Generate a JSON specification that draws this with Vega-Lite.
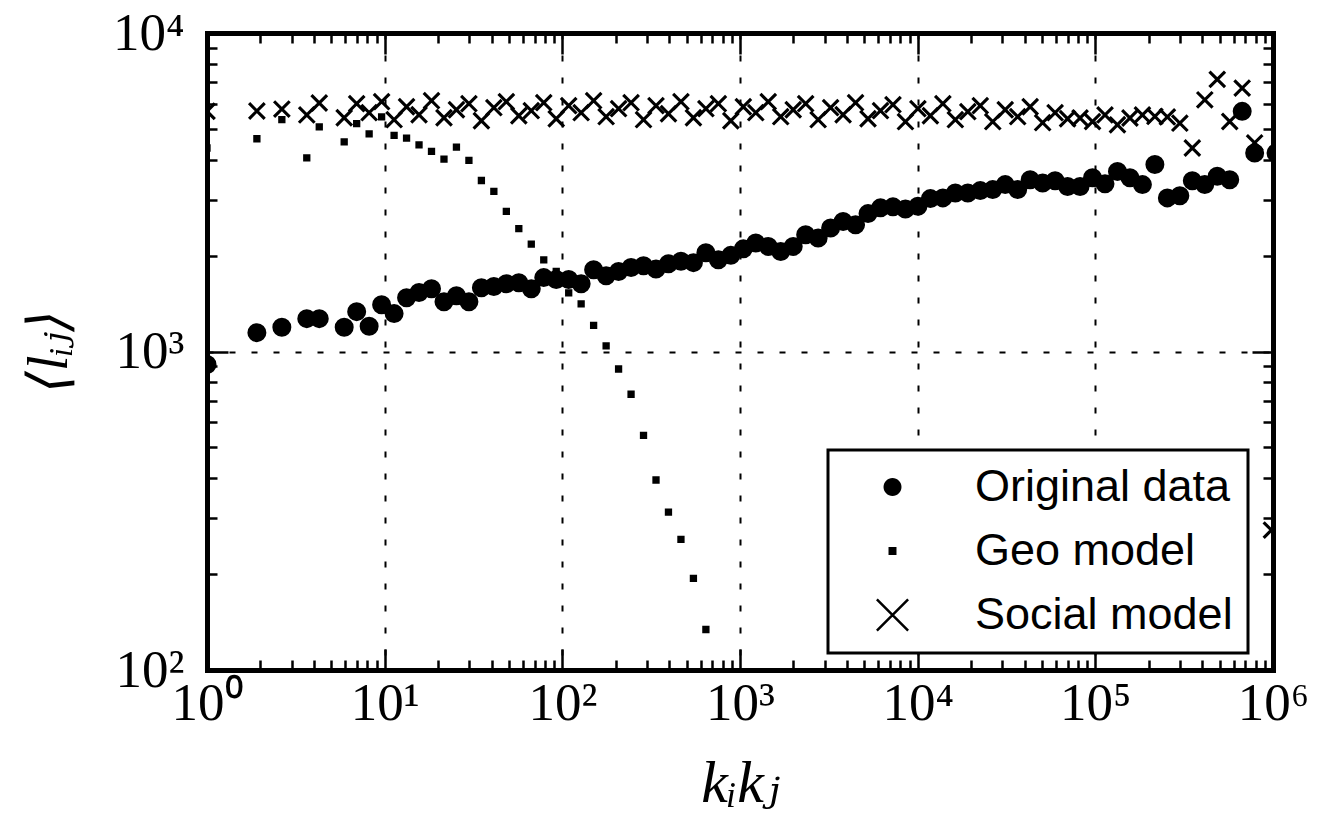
{
  "$schema": "https://vega.github.io/schema/vega-lite/v6.json",
  "width": 1066,
  "height": 637,
  "autosize": {"type": "none"},
  "padding": {"left": 207, "top": 33, "right": 57, "bottom": 152},
  "background": "white",
  "config": {
    "view": {"stroke": null},
    "axis": {
      "domain": true, "domainColor": "black", "domainWidth": 5, "domainCap": "square",
      "tickColor": "black", "tickWidth": 2.5,
      "labelColor": "black", "titleColor": "black",
      "labelFlush": false, "labelOverlap": false, "labelBound": false
    },
    "legend": {
      "orient": "none", "legendX": 621, "legendY": 417, "zindex": 2,
      "labelFont": "Liberation Sans", "labelFontSize": 45, "labelColor": "black", "labelBaseline": "middle", "labelLimit": 0,
      "padding": 14.5, "rowPadding": 18, "symbolOffset": 27.5, "labelOffset": 60,
      "symbolSize": 1089, "symbolStrokeWidth": 0, "symbolFillColor": "black",
      "strokeColor": "black", "fillColor": "white", "strokeWidth": 3
    }
  },
  "data": {
    "values": [
      {"series": "Original data", "k": 1, "l": 910},
      {"series": "Original data", "k": 1.909, "l": 1146},
      {"series": "Original data", "k": 2.638, "l": 1191},
      {"series": "Original data", "k": 3.644, "l": 1268},
      {"series": "Original data", "k": 4.284, "l": 1268},
      {"series": "Original data", "k": 5.918, "l": 1191},
      {"series": "Original data", "k": 6.957, "l": 1334},
      {"series": "Original data", "k": 8.177, "l": 1200},
      {"series": "Original data", "k": 9.612, "l": 1403},
      {"series": "Original data", "k": 11.3, "l": 1315},
      {"series": "Original data", "k": 13.28, "l": 1475},
      {"series": "Original data", "k": 15.61, "l": 1532},
      {"series": "Original data", "k": 18.35, "l": 1575},
      {"series": "Original data", "k": 21.57, "l": 1433},
      {"series": "Original data", "k": 25.35, "l": 1496},
      {"series": "Original data", "k": 29.8, "l": 1433},
      {"series": "Original data", "k": 35.03, "l": 1585},
      {"series": "Original data", "k": 41.17, "l": 1600},
      {"series": "Original data", "k": 48.4, "l": 1633},
      {"series": "Original data", "k": 56.89, "l": 1644},
      {"series": "Original data", "k": 66.87, "l": 1575},
      {"series": "Original data", "k": 78.6, "l": 1706},
      {"series": "Original data", "k": 92.39, "l": 1683},
      {"series": "Original data", "k": 108.6, "l": 1683},
      {"series": "Original data", "k": 127.6, "l": 1633},
      {"series": "Original data", "k": 150.0, "l": 1807},
      {"series": "Original data", "k": 176.4, "l": 1730},
      {"series": "Original data", "k": 207.3, "l": 1783},
      {"series": "Original data", "k": 243.7, "l": 1836},
      {"series": "Original data", "k": 286.4, "l": 1858},
      {"series": "Original data", "k": 336.7, "l": 1815},
      {"series": "Original data", "k": 395.7, "l": 1887},
      {"series": "Original data", "k": 465.2, "l": 1919},
      {"series": "Original data", "k": 546.8, "l": 1901},
      {"series": "Original data", "k": 642.7, "l": 2041},
      {"series": "Original data", "k": 755.4, "l": 1941},
      {"series": "Original data", "k": 888.0, "l": 2004},
      {"series": "Original data", "k": 1044, "l": 2100},
      {"series": "Original data", "k": 1227, "l": 2190},
      {"series": "Original data", "k": 1442, "l": 2138},
      {"series": "Original data", "k": 1695, "l": 2061},
      {"series": "Original data", "k": 1993, "l": 2138},
      {"series": "Original data", "k": 2342, "l": 2327},
      {"series": "Original data", "k": 2753, "l": 2270},
      {"series": "Original data", "k": 3236, "l": 2443},
      {"series": "Original data", "k": 3804, "l": 2560},
      {"series": "Original data", "k": 4471, "l": 2500},
      {"series": "Original data", "k": 5255, "l": 2710},
      {"series": "Original data", "k": 6177, "l": 2825},
      {"series": "Original data", "k": 7261, "l": 2845},
      {"series": "Original data", "k": 8535, "l": 2800},
      {"series": "Original data", "k": 10032, "l": 2857},
      {"series": "Original data", "k": 11792, "l": 3020},
      {"series": "Original data", "k": 13861, "l": 3036},
      {"series": "Original data", "k": 16293, "l": 3146},
      {"series": "Original data", "k": 19152, "l": 3146},
      {"series": "Original data", "k": 22511, "l": 3200},
      {"series": "Original data", "k": 26461, "l": 3223},
      {"series": "Original data", "k": 31103, "l": 3342},
      {"series": "Original data", "k": 36559, "l": 3223},
      {"series": "Original data", "k": 42974, "l": 3460},
      {"series": "Original data", "k": 50513, "l": 3380},
      {"series": "Original data", "k": 59374, "l": 3436},
      {"series": "Original data", "k": 69791, "l": 3296},
      {"series": "Original data", "k": 82035, "l": 3296},
      {"series": "Original data", "k": 96427, "l": 3510},
      {"series": "Original data", "k": 113350, "l": 3360},
      {"series": "Original data", "k": 133230, "l": 3673},
      {"series": "Original data", "k": 156600, "l": 3510},
      {"series": "Original data", "k": 184080, "l": 3342},
      {"series": "Original data", "k": 216380, "l": 3864},
      {"series": "Original data", "k": 254330, "l": 3036},
      {"series": "Original data", "k": 298950, "l": 3083},
      {"series": "Original data", "k": 351400, "l": 3436},
      {"series": "Original data", "k": 413050, "l": 3342},
      {"series": "Original data", "k": 485510, "l": 3548},
      {"series": "Original data", "k": 570690, "l": 3460},
      {"series": "Original data", "k": 670810, "l": 5675},
      {"series": "Original data", "k": 788500, "l": 4198},
      {"series": "Original data", "k": 1040000, "l": 4198},

      {"series": "Geo model", "k": 1, "l": 4355},
      {"series": "Geo model", "k": 1.909, "l": 4656},
      {"series": "Geo model", "k": 2.638, "l": 5348},
      {"series": "Geo model", "k": 3.644, "l": 4055},
      {"series": "Geo model", "k": 4.284, "l": 5070},
      {"series": "Geo model", "k": 5.918, "l": 4550},
      {"series": "Geo model", "k": 6.957, "l": 5190},
      {"series": "Geo model", "k": 8.177, "l": 4820},
      {"series": "Geo model", "k": 9.612, "l": 5450},
      {"series": "Geo model", "k": 11.3, "l": 4770},
      {"series": "Geo model", "k": 13.28, "l": 4677},
      {"series": "Geo model", "k": 15.61, "l": 4457},
      {"series": "Geo model", "k": 18.35, "l": 4248},
      {"series": "Geo model", "k": 21.57, "l": 4018},
      {"series": "Geo model", "k": 25.35, "l": 4385},
      {"series": "Geo model", "k": 29.8, "l": 3980},
      {"series": "Geo model", "k": 35.03, "l": 3443},
      {"series": "Geo model", "k": 41.17, "l": 3183},
      {"series": "Geo model", "k": 48.4, "l": 2755},
      {"series": "Geo model", "k": 56.89, "l": 2430},
      {"series": "Geo model", "k": 66.87, "l": 2174},
      {"series": "Geo model", "k": 78.6, "l": 1940},
      {"series": "Geo model", "k": 92.39, "l": 1783},
      {"series": "Geo model", "k": 108.6, "l": 1527},
      {"series": "Geo model", "k": 127.6, "l": 1410},
      {"series": "Geo model", "k": 150.0, "l": 1208},
      {"series": "Geo model", "k": 176.4, "l": 1042},
      {"series": "Geo model", "k": 207.3, "l": 881},
      {"series": "Geo model", "k": 243.7, "l": 734},
      {"series": "Geo model", "k": 286.4, "l": 545},
      {"series": "Geo model", "k": 336.7, "l": 395},
      {"series": "Geo model", "k": 395.7, "l": 313},
      {"series": "Geo model", "k": 465.2, "l": 257},
      {"series": "Geo model", "k": 546.8, "l": 194},
      {"series": "Geo model", "k": 642.7, "l": 134},

      {"series": "Social model", "k": 1, "l": 5680},
      {"series": "Social model", "k": 1.909, "l": 5690},
      {"series": "Social model", "k": 2.638, "l": 5770},
      {"series": "Social model", "k": 3.644, "l": 5530},
      {"series": "Social model", "k": 4.284, "l": 6030},
      {"series": "Social model", "k": 5.918, "l": 5420},
      {"series": "Social model", "k": 6.957, "l": 5998},
      {"series": "Social model", "k": 8.177, "l": 5620},
      {"series": "Social model", "k": 9.612, "l": 6086},
      {"series": "Social model", "k": 11.3, "l": 5343},
      {"series": "Social model", "k": 13.28, "l": 5869},
      {"series": "Social model", "k": 15.61, "l": 5539},
      {"series": "Social model", "k": 18.35, "l": 6130},
      {"series": "Social model", "k": 21.57, "l": 5420},
      {"series": "Social model", "k": 25.35, "l": 5743},
      {"series": "Social model", "k": 29.8, "l": 5998},
      {"series": "Social model", "k": 35.03, "l": 5304},
      {"series": "Social model", "k": 41.17, "l": 5827},
      {"series": "Social model", "k": 48.4, "l": 6086},
      {"series": "Social model", "k": 56.89, "l": 5499},
      {"series": "Social model", "k": 66.87, "l": 5702},
      {"series": "Social model", "k": 78.6, "l": 6042},
      {"series": "Social model", "k": 92.39, "l": 5381},
      {"series": "Social model", "k": 108.6, "l": 5912},
      {"series": "Social model", "k": 127.6, "l": 5620},
      {"series": "Social model", "k": 150.0, "l": 6130},
      {"series": "Social model", "k": 176.4, "l": 5460},
      {"series": "Social model", "k": 207.3, "l": 5785},
      {"series": "Social model", "k": 243.7, "l": 6042},
      {"series": "Social model", "k": 286.4, "l": 5343},
      {"series": "Social model", "k": 336.7, "l": 5912},
      {"series": "Social model", "k": 395.7, "l": 5579},
      {"series": "Social model", "k": 465.2, "l": 6086},
      {"series": "Social model", "k": 546.8, "l": 5420},
      {"series": "Social model", "k": 642.7, "l": 5785},
      {"series": "Social model", "k": 755.4, "l": 5998},
      {"series": "Social model", "k": 888.0, "l": 5304},
      {"series": "Social model", "k": 1044, "l": 5869},
      {"series": "Social model", "k": 1227, "l": 5620},
      {"series": "Social model", "k": 1442, "l": 6086},
      {"series": "Social model", "k": 1695, "l": 5460},
      {"series": "Social model", "k": 1993, "l": 5743},
      {"series": "Social model", "k": 2342, "l": 5998},
      {"series": "Social model", "k": 2753, "l": 5343},
      {"series": "Social model", "k": 3236, "l": 5827},
      {"series": "Social model", "k": 3804, "l": 5539},
      {"series": "Social model", "k": 4471, "l": 6042},
      {"series": "Social model", "k": 5255, "l": 5381},
      {"series": "Social model", "k": 6177, "l": 5702},
      {"series": "Social model", "k": 7261, "l": 5955},
      {"series": "Social model", "k": 8535, "l": 5266},
      {"series": "Social model", "k": 10032, "l": 5785},
      {"series": "Social model", "k": 11792, "l": 5499},
      {"series": "Social model", "k": 13861, "l": 5998},
      {"series": "Social model", "k": 16293, "l": 5343},
      {"series": "Social model", "k": 19152, "l": 5661},
      {"series": "Social model", "k": 22511, "l": 5912},
      {"series": "Social model", "k": 26461, "l": 5266},
      {"series": "Social model", "k": 31103, "l": 5743},
      {"series": "Social model", "k": 36559, "l": 5460},
      {"series": "Social model", "k": 42974, "l": 5869},
      {"series": "Social model", "k": 50513, "l": 5228},
      {"series": "Social model", "k": 59374, "l": 5620},
      {"series": "Social model", "k": 69791, "l": 5381},
      {"series": "Social model", "k": 82035, "l": 5410},
      {"series": "Social model", "k": 96427, "l": 5270},
      {"series": "Social model", "k": 113350, "l": 5530},
      {"series": "Social model", "k": 133230, "l": 5150},
      {"series": "Social model", "k": 156600, "l": 5410},
      {"series": "Social model", "k": 184080, "l": 5530},
      {"series": "Social model", "k": 216380, "l": 5470},
      {"series": "Social model", "k": 254330, "l": 5450},
      {"series": "Social model", "k": 298950, "l": 5210},
      {"series": "Social model", "k": 351400, "l": 4355},
      {"series": "Social model", "k": 413050, "l": 6170},
      {"series": "Social model", "k": 485510, "l": 7150},
      {"series": "Social model", "k": 570690, "l": 5273},
      {"series": "Social model", "k": 670810, "l": 6714},
      {"series": "Social model", "k": 788500, "l": 4520},
      {"series": "Social model", "k": 980000, "l": 275}
    ]
  },
  "layer": [
    {
      "mark": {"type": "point", "filled": true, "clip": true, "fill": "black", "stroke": "black", "strokeWidth": 2, "opacity": 1},
      "encoding": {
        "x": {
          "field": "k", "type": "quantitative",
          "scale": {"type": "log", "domain": [1, 1000000], "nice": false},
          "axis": {
            "orient": "bottom",
            "values": [1,2,3,4,5,6,7,8,9,10,20,30,40,50,60,70,80,90,100,200,300,400,500,600,700,800,900,1000,2000,3000,4000,5000,6000,7000,8000,9000,10000,20000,30000,40000,50000,60000,70000,80000,90000,100000,200000,300000,400000,500000,600000,700000,800000,900000,1000000],
            "tickSize": {"condition": {"test": "abs(log(datum.value)/LN10 - round(log(datum.value)/LN10)) < 0.001", "value": -21}, "value": -10},
            "labelExpr": "abs(log(datum.value)/LN10 - round(log(datum.value)/LN10)) < 0.001 ? '10' + ['⁰','¹','²','³','⁴','⁵','⁶'][round(log(datum.value)/LN10)] : ''",
            "labelFont": "Liberation Serif", "labelFontSize": 53, "labelPadding": 28,
            "grid": true, "gridColor": "black", "gridWidth": 2, "gridDash": [6, 16],
            "gridOpacity": {"condition": {"test": "abs(log(datum.value)/LN10 - round(log(datum.value)/LN10)) < 0.001", "value": 1}, "value": 0},
            "title": "kᵢkⱼ", "titleFont": "Liberation Serif, DejaVu Serif", "titleFontStyle": "italic", "titleFontWeight": "normal", "titleFontSize": 60,
            "titleY": 131, "titleBaseline": "alphabetic",
            "zindex": 1
          }
        },
        "y": {
          "field": "l", "type": "quantitative",
          "scale": {"type": "log", "domain": [100, 10000], "nice": false},
          "axis": {
            "orient": "left",
            "values": [100,200,300,400,500,600,700,800,900,1000,2000,3000,4000,5000,6000,7000,8000,9000,10000],
            "tickSize": {"condition": {"test": "abs(log(datum.value)/LN10 - round(log(datum.value)/LN10)) < 0.001", "value": -21}, "value": -10},
            "labelExpr": "abs(log(datum.value)/LN10 - round(log(datum.value)/LN10)) < 0.001 ? '10' + ['⁰','¹','²','³','⁴','⁵','⁶'][round(log(datum.value)/LN10)] : ''",
            "labelFont": "Liberation Serif", "labelFontSize": 53, "labelPadding": 44, "labelBaseline": "middle",
            "grid": true, "gridColor": "black", "gridWidth": 2, "gridDash": [6, 16],
            "gridOpacity": {"condition": {"test": "abs(log(datum.value)/LN10 - round(log(datum.value)/LN10)) < 0.001", "value": 1}, "value": 0},
            "title": "⟨lᵢⱼ⟩", "titleFont": "Liberation Serif, DejaVu Serif", "titleFontStyle": "italic", "titleFontWeight": "normal", "titleFontSize": 56,
            "titleX": -158, "titleY": 318, "titleBaseline": "middle", "titleAngle": -90,
            "zindex": 1
          }
        },
        "shape": {
          "field": "series", "type": "nominal",
          "scale": {
            "domain": ["Original data", "Geo model", "Social model"],
            "range": [
              "M-0.545,0A0.545,0.545,0,1,0,0.545,0A0.545,0.545,0,1,0,-0.545,0Z",
              "M-0.242,-0.242L0.242,-0.242L0.242,0.242L-0.242,0.242Z",
              "M-1,-0.893L-0.893,-1L1,0.893L0.893,1ZM1,-0.893L-0.893,1L-1,0.893L0.893,-1Z"
            ]
          },
          "legend": {"title": null}
        },
        "size": {
          "condition": [
            {"test": "datum.series === 'Geo model'", "value": 480},
            {"test": "datum.series === 'Social model'", "value": 225}
          ],
          "value": 973
        }
      }
    },
    {
      "mark": {"type": "point", "opacity": 0},
      "encoding": {
        "x": {
          "field": "k", "type": "quantitative",
          "scale": {"type": "log", "domain": [1, 1000000], "nice": false},
          "axis": {
            "orient": "top",
            "values": [1,2,3,4,5,6,7,8,9,10,20,30,40,50,60,70,80,90,100,200,300,400,500,600,700,800,900,1000,2000,3000,4000,5000,6000,7000,8000,9000,10000,20000,30000,40000,50000,60000,70000,80000,90000,100000,200000,300000,400000,500000,600000,700000,800000,900000,1000000],
            "tickSize": {"condition": {"test": "abs(log(datum.value)/LN10 - round(log(datum.value)/LN10)) < 0.001", "value": -21}, "value": -10},
            "labels": false, "grid": false, "title": null, "zindex": 1
          }
        },
        "y": {
          "field": "l", "type": "quantitative",
          "scale": {"type": "log", "domain": [100, 10000], "nice": false},
          "axis": {
            "orient": "right",
            "values": [100,200,300,400,500,600,700,800,900,1000,2000,3000,4000,5000,6000,7000,8000,9000,10000],
            "tickSize": {"condition": {"test": "abs(log(datum.value)/LN10 - round(log(datum.value)/LN10)) < 0.001", "value": -21}, "value": -10},
            "labels": false, "grid": false, "title": null, "zindex": 1
          }
        }
      }
    }
  ],
  "resolve": {"axis": {"x": "independent", "y": "independent"}}
}
